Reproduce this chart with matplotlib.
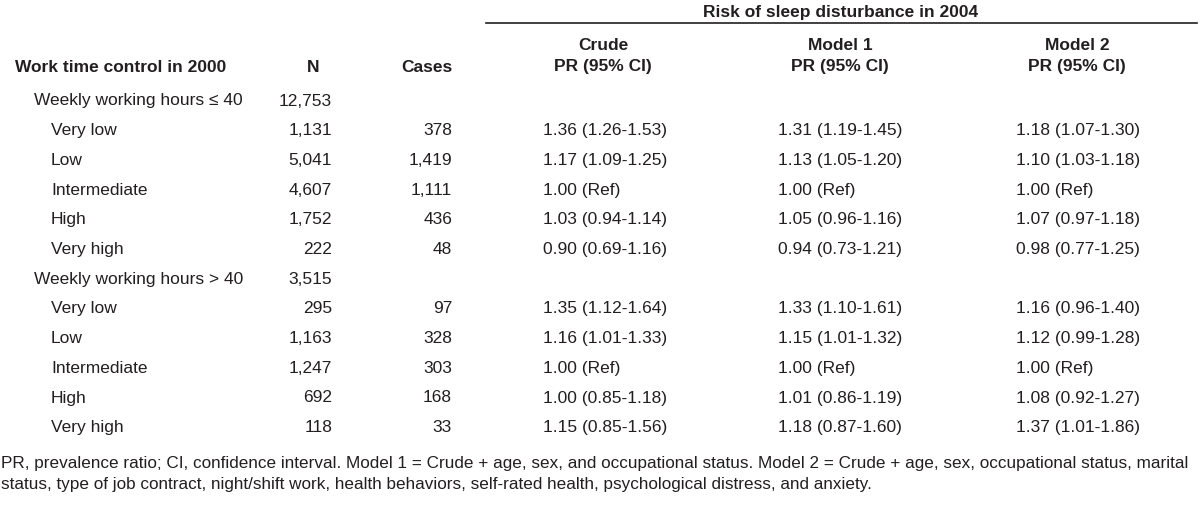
import matplotlib.pyplot as plt

plt.rcParams['font.family'] = ['Liberation Sans', 'DejaVu Sans']

# table contents
labels = ['Weekly working hours \u2264 40', 'Very low', 'Low', 'Intermediate', 'High', 'Very high',
          'Weekly working hours > 40', 'Very low', 'Low', 'Intermediate', 'High', 'Very high']
levels = [0, 1, 1, 1, 1, 1, 0, 1, 1, 1, 1, 1]
n_vals = ['12,753', '1,131', '5,041', '4,607', '1,752', '222',
          '3,515', '295', '1,163', '1,247', '692', '118']
cases = ['', '378', '1,419', '1,111', '436', '48',
         '', '97', '328', '303', '168', '33']
crude = ['', '1.36 (1.26-1.53)', '1.17 (1.09-1.25)', '1.00 (Ref)', '1.03 (0.94-1.14)', '0.90 (0.69-1.16)',
         '', '1.35 (1.12-1.64)', '1.16 (1.01-1.33)', '1.00 (Ref)', '1.00 (0.85-1.18)', '1.15 (0.85-1.56)']
model1 = ['', '1.31 (1.19-1.45)', '1.13 (1.05-1.20)', '1.00 (Ref)', '1.05 (0.96-1.16)', '0.94 (0.73-1.21)',
          '', '1.33 (1.10-1.61)', '1.15 (1.01-1.32)', '1.00 (Ref)', '1.01 (0.86-1.19)', '1.18 (0.87-1.60)']
model2 = ['', '1.18 (1.07-1.30)', '1.10 (1.03-1.18)', '1.00 (Ref)', '1.07 (0.97-1.18)', '0.98 (0.77-1.25)',
          '', '1.16 (0.96-1.40)', '1.12 (0.99-1.28)', '1.00 (Ref)', '1.08 (0.92-1.27)', '1.37 (1.01-1.86)']
model_heads = ['Crude', 'Model 1', 'Model 2']
span_title = 'Risk of sleep disturbance in 2004'
footnote = ('PR, prevalence ratio; CI, confidence interval. Model 1 = Crude + age, sex, and occupational status. '
            'Model 2 = Crude + age, sex, occupational status, marital\n'
            'status, type of job contract, night/shift work, health behaviors, self-rated health, '
            'psychological distress, and anxiety.')

fig = plt.figure(figsize=(12, 5.24), dpi=100)
ax = fig.add_axes([0, 0, 1, 1])
ax.set_xlim(0, 1200)
ax.set_ylim(524, 0)
ax.axis('off')

fs = 12.5
col = '#231f20'
bold = dict(fontsize=fs, fontweight='bold', color=col, va='center')
norm = dict(fontsize=fs, color=col, va='center')

# header
ax.text(841, 12, span_title, ha='center', **bold)
ax.plot([486, 1197], [23, 23], color=col, lw=1.2)
ax.text(15, 67, 'Work time control in 2000', ha='left', **bold)
ax.text(313, 67, 'N', ha='center', **bold)
ax.text(453, 67, 'Cases', ha='right', **bold)
for cx, h in zip([603, 840, 1077], model_heads):
    ax.text(cx, 46, h, ha='center', **bold)
    ax.text(cx, 67, 'PR (95% CI)', ha='center', **bold)

# body
y0, dy = 101, 29.7
for i in range(len(labels)):
    y = y0 + i * dy
    ax.text(34 if levels[i] == 0 else 51, y, labels[i], ha='left', **norm)
    ax.text(332, y, n_vals[i], ha='right', **norm)
    ax.text(452, y, cases[i], ha='right', **norm)
    ax.text(543, y, crude[i], ha='left', **norm)
    ax.text(778, y, model1[i], ha='left', **norm)
    ax.text(1016, y, model2[i], ha='left', **norm)

ax.text(1, 474, footnote, ha='left', va='center', fontsize=12.3, color=col, linespacing=1.45)

fig.savefig('out.png', dpi=100, facecolor='white')
